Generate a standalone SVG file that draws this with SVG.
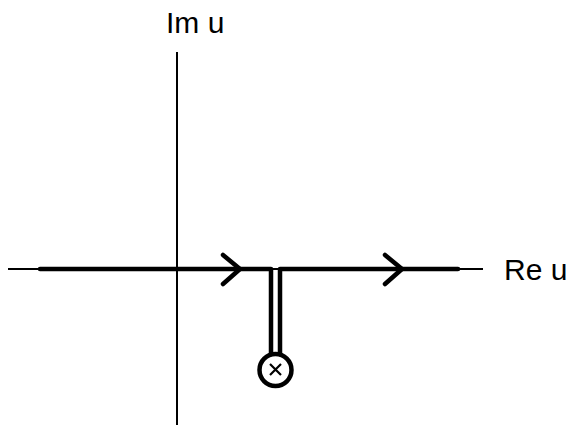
<svg xmlns="http://www.w3.org/2000/svg" width="571" height="436" viewBox="0 0 571 436">
<style>
.axis{stroke:#000;stroke-width:2;fill:none}
.contour{stroke:#000;stroke-width:4.5;fill:none;stroke-linecap:round;stroke-linejoin:round}
.lbl{font-family:"Liberation Sans",Arial,sans-serif;font-size:30px;fill:#000}
</style>
<rect width="571" height="436" fill="#fff"/>
<g id="axes">
<line class="axis" x1="8" y1="269" x2="483" y2="269"/>
<line class="axis" x1="177" y1="52" x2="177" y2="425"/>
</g>
<g id="connectors">
<path class="contour" d="M40 269 H271 V354 M280 354 V269 H458"/>
<path class="contour" d="M223 255 L240 269 L223 284" stroke-width="5"/>
<path class="contour" d="M385 255 L402 269 L385 284" stroke-width="5"/>
</g>
<g id="pole">
<circle class="contour" cx="275.5" cy="370" r="16"/>
<path d="M270 364 L281 375 M281 364 L270 375" stroke="#000" stroke-width="2.2" fill="none"/>
</g>
<g id="labels">
<text class="lbl" x="166" y="33">Im u</text>
<text class="lbl" x="504" y="280">Re u</text>
</g>
</svg>
